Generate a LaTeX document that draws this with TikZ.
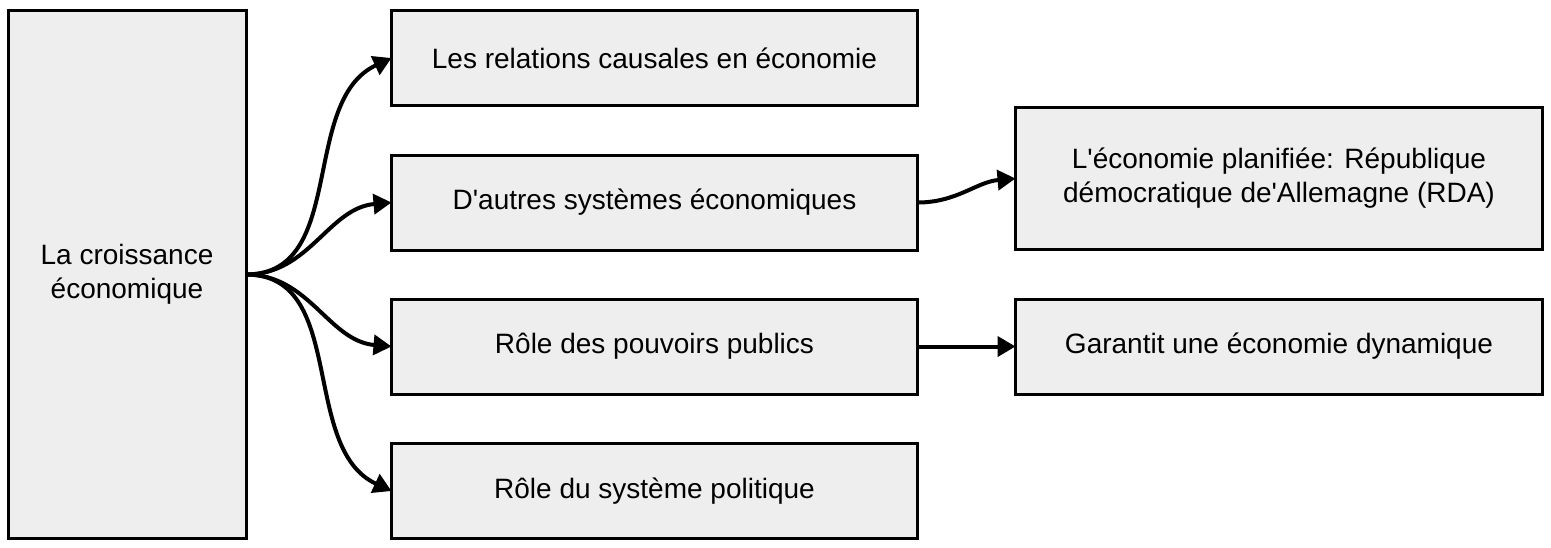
\documentclass[tikz,border=0pt]{standalone}
\usepackage{fontspec}
\setmainfont{Liberation Sans}[Ligatures=TeXOff]
\usetikzlibrary{arrows.meta}
\definecolor{boxgray}{HTML}{EEEEEE}
\tikzset{
  box/.style={draw, fill=boxgray, line width=1.5pt, align=center, inner sep=0pt, outer sep=0pt, font=\fontsize{14}{17}\selectfont},
  link/.style={line width=2pt, -{Triangle[length=9pt, width=10pt]}}
}
\begin{document}
\begin{tikzpicture}[x=0.5pt, y=-0.5pt]
    \useasboundingbox (0,0) rectangle (1551,547);
    \node[box, minimum width=119pt, minimum height=264pt] (croissance) at (127,274.5) {La croissance\\économique};
    \node[box, minimum width=263pt, minimum height=47.5pt] (relations) at (654.5,58) {Les relations causales en économie};
    \node[box, minimum width=263pt, minimum height=47.5pt] (systemes) at (654.5,202.5) {D'autres systèmes économiques};
    \node[box, minimum width=263pt, minimum height=47.5pt] (pouvoirs) at (654.5,346.5) {Rôle des pouvoirs publics};
    \node[box, minimum width=263pt, minimum height=47.5pt] (politique) at (654.5,491) {Rôle du système politique};
    \node[box, minimum width=263.5pt, minimum height=71pt] (planifiee) at (1279,178.5) {L'économie planifiée: République\\démocratique de'Allemagne (RDA)};
    \node[box, minimum width=263.5pt, minimum height=47.5pt] (garantit) at (1279,346.5) {Garantit une économie dynamique};
    \draw[link] (croissance.east) to[out=0, in=205] (relations.west);
    \draw[link] (croissance.east) to[out=0, in=185] (systemes.west);
    \draw[link] (croissance.east) to[out=0, in=175] (pouvoirs.west);
    \draw[link] (croissance.east) to[out=0, in=155] (politique.west);
    \draw[link] (systemes.east) to[out=0, in=185] (planifiee.west);
    \draw[link] (pouvoirs.east) -- (garantit.west);
  \end{tikzpicture}
\end{document}
